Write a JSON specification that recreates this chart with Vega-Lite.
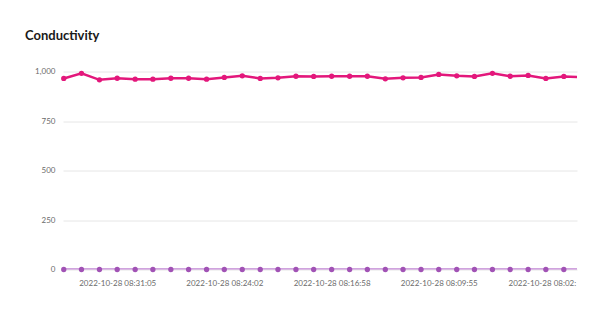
{
  "$schema": "https://vega.github.io/schema/vega-lite/v6.json",
  "width": 514,
  "height": 198,
  "autosize": "none",
  "padding": {"left": 63, "top": 71.5, "right": 29, "bottom": 41.5},
  "background": "white",
  "title": {
    "text": "Conductivity",
    "anchor": "start",
    "frame": "group",
    "dx": -38,
    "offset": 25,
    "font": "Lato",
    "fontSize": 13,
    "fontWeight": "bold",
    "color": "#1a1a1a"
  },
  "config": {"view": {"stroke": null}, "font": "Lato"},
  "data": {
    "values": [
      {"time": "2022-10-28T08:34:36", "series": "Conductivity", "value": 965},
      {"time": "2022-10-28T08:33:26", "series": "Conductivity", "value": 991},
      {"time": "2022-10-28T08:32:15", "series": "Conductivity", "value": 958},
      {"time": "2022-10-28T08:31:05", "series": "Conductivity", "value": 966},
      {"time": "2022-10-28T08:29:54", "series": "Conductivity", "value": 961},
      {"time": "2022-10-28T08:28:44", "series": "Conductivity", "value": 961},
      {"time": "2022-10-28T08:27:33", "series": "Conductivity", "value": 966},
      {"time": "2022-10-28T08:26:23", "series": "Conductivity", "value": 966},
      {"time": "2022-10-28T08:25:12", "series": "Conductivity", "value": 961},
      {"time": "2022-10-28T08:24:02", "series": "Conductivity", "value": 970},
      {"time": "2022-10-28T08:22:51", "series": "Conductivity", "value": 978},
      {"time": "2022-10-28T08:21:40", "series": "Conductivity", "value": 965},
      {"time": "2022-10-28T08:20:30", "series": "Conductivity", "value": 968},
      {"time": "2022-10-28T08:19:19", "series": "Conductivity", "value": 976},
      {"time": "2022-10-28T08:18:09", "series": "Conductivity", "value": 975},
      {"time": "2022-10-28T08:16:58", "series": "Conductivity", "value": 976},
      {"time": "2022-10-28T08:15:47", "series": "Conductivity", "value": 976},
      {"time": "2022-10-28T08:14:37", "series": "Conductivity", "value": 976},
      {"time": "2022-10-28T08:13:26", "series": "Conductivity", "value": 963},
      {"time": "2022-10-28T08:12:16", "series": "Conductivity", "value": 968},
      {"time": "2022-10-28T08:11:05", "series": "Conductivity", "value": 970},
      {"time": "2022-10-28T08:09:55", "series": "Conductivity", "value": 985},
      {"time": "2022-10-28T08:08:44", "series": "Conductivity", "value": 978},
      {"time": "2022-10-28T08:07:34", "series": "Conductivity", "value": 975},
      {"time": "2022-10-28T08:06:23", "series": "Conductivity", "value": 991},
      {"time": "2022-10-28T08:05:13", "series": "Conductivity", "value": 976},
      {"time": "2022-10-28T08:04:02", "series": "Conductivity", "value": 980},
      {"time": "2022-10-28T08:02:52", "series": "Conductivity", "value": 965},
      {"time": "2022-10-28T08:01:41", "series": "Conductivity", "value": 975},
      {"time": "2022-10-28T08:00:31", "series": "Conductivity", "value": 972},
      {"time": "2022-10-28T08:34:36", "series": "Other", "value": 0},
      {"time": "2022-10-28T08:33:26", "series": "Other", "value": 0},
      {"time": "2022-10-28T08:32:15", "series": "Other", "value": 0},
      {"time": "2022-10-28T08:31:05", "series": "Other", "value": 0},
      {"time": "2022-10-28T08:29:54", "series": "Other", "value": 0},
      {"time": "2022-10-28T08:28:44", "series": "Other", "value": 0},
      {"time": "2022-10-28T08:27:33", "series": "Other", "value": 0},
      {"time": "2022-10-28T08:26:23", "series": "Other", "value": 0},
      {"time": "2022-10-28T08:25:12", "series": "Other", "value": 0},
      {"time": "2022-10-28T08:24:02", "series": "Other", "value": 0},
      {"time": "2022-10-28T08:22:51", "series": "Other", "value": 0},
      {"time": "2022-10-28T08:21:40", "series": "Other", "value": 0},
      {"time": "2022-10-28T08:20:30", "series": "Other", "value": 0},
      {"time": "2022-10-28T08:19:19", "series": "Other", "value": 0},
      {"time": "2022-10-28T08:18:09", "series": "Other", "value": 0},
      {"time": "2022-10-28T08:16:58", "series": "Other", "value": 0},
      {"time": "2022-10-28T08:15:47", "series": "Other", "value": 0},
      {"time": "2022-10-28T08:14:37", "series": "Other", "value": 0},
      {"time": "2022-10-28T08:13:26", "series": "Other", "value": 0},
      {"time": "2022-10-28T08:12:16", "series": "Other", "value": 0},
      {"time": "2022-10-28T08:11:05", "series": "Other", "value": 0},
      {"time": "2022-10-28T08:09:55", "series": "Other", "value": 0},
      {"time": "2022-10-28T08:08:44", "series": "Other", "value": 0},
      {"time": "2022-10-28T08:07:34", "series": "Other", "value": 0},
      {"time": "2022-10-28T08:06:23", "series": "Other", "value": 0},
      {"time": "2022-10-28T08:05:13", "series": "Other", "value": 0},
      {"time": "2022-10-28T08:04:02", "series": "Other", "value": 0},
      {"time": "2022-10-28T08:02:52", "series": "Other", "value": 0},
      {"time": "2022-10-28T08:01:41", "series": "Other", "value": 0},
      {"time": "2022-10-28T08:00:31", "series": "Other", "value": 0}
    ]
  },
  "encoding": {
    "x": {
      "field": "time",
      "type": "temporal",
      "scale": {
        "domain": [
          {"year": 2022, "month": 10, "date": 28, "hours": 8, "minutes": 0, "seconds": 49},
          {"year": 2022, "month": 10, "date": 28, "hours": 8, "minutes": 34, "seconds": 39}
        ],
        "reverse": true
      },
      "axis": {
        "title": null,
        "grid": false,
        "ticks": false,
        "domain": false,
        "values": [
          {"year": 2022, "month": 10, "date": 28, "hours": 8, "minutes": 31, "seconds": 5},
          {"year": 2022, "month": 10, "date": 28, "hours": 8, "minutes": 24, "seconds": 2},
          {"year": 2022, "month": 10, "date": 28, "hours": 8, "minutes": 16, "seconds": 58},
          {"year": 2022, "month": 10, "date": 28, "hours": 8, "minutes": 9, "seconds": 55},
          {"year": 2022, "month": 10, "date": 28, "hours": 8, "minutes": 2, "seconds": 52}
        ],
        "labelExpr": "minutes(datum.value) == 2 ? '2022-10-28 08:02:' : timeFormat(datum.value, '%Y-%m-%d %H:%M:%S')",
        "labelOffset": {"condition": {"test": "minutes(datum.value) == 2", "value": -4}, "value": 0},
        "labelFontSize": 8,
        "labelColor": "#6b6b6b",
        "labelPadding": 10,
        "labelFlush": false,
        "labelOverlap": false,
        "labelBound": false
      }
    },
    "y": {
      "field": "value",
      "type": "quantitative",
      "scale": {"domain": [0, 1000], "nice": false},
      "axis": {
        "title": null,
        "values": [0, 250, 500, 750, 1000],
        "format": ",d",
        "ticks": false,
        "domain": false,
        "gridColor": "#e6e6e6",
        "gridWidth": 1,
        "labelFontSize": 8,
        "labelColor": "#6b6b6b",
        "labelPadding": 8
      }
    }
  },
  "layer": [
    {
      "mark": {"type": "line", "strokeWidth": 2.5, "clip": true, "interpolate": "linear"},
      "encoding": {
        "color": {
          "field": "series",
          "type": "nominal",
          "scale": {"domain": ["Conductivity", "Other"], "range": ["#e3177b", "#c184d3"]},
          "legend": null
        }
      }
    },
    {
      "transform": [{"filter": "minutes(datum.time) >= 1"}],
      "mark": {"type": "point", "filled": true, "opacity": 1, "size": 28, "clip": false},
      "encoding": {
        "color": {
          "field": "series",
          "type": "nominal",
          "scale": {"domain": ["Conductivity", "Other"], "range": ["#e3177b", "#a152b5"]},
          "legend": null
        }
      }
    }
  ],
  "resolve": {"scale": {"color": "independent"}}
}
